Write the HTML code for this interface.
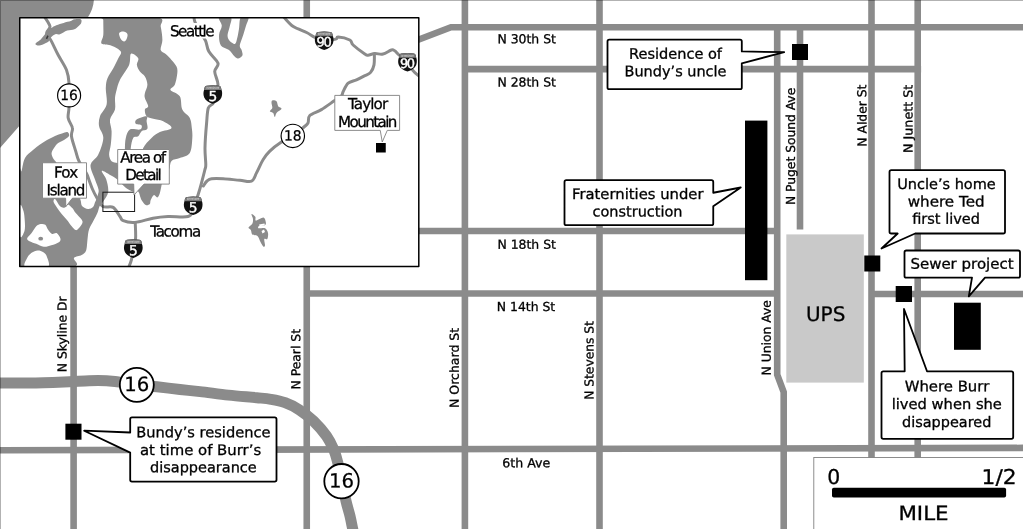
<!DOCTYPE html>
<html lang="en">
<head>
<meta charset="utf-8">
<title>Map of Tacoma area</title>
<style>
html,body{margin:0;padding:0;background:#fff;}
body{width:1023px;height:529px;overflow:hidden;position:relative;}
svg{display:block;position:absolute;left:0;top:0;filter:grayscale(1);}
text{font-family:"DejaVu Sans","Liberation Sans",sans-serif;fill:#000;text-rendering:geometricPrecision;stroke:#000;stroke-width:0.3;}
.c{font-family:"DejaVu Sans Condensed","DejaVu Sans","Liberation Sans",sans-serif;stroke:#000;stroke-width:0.3;}
.rd{stroke:#8b8b8b;stroke-width:6.6;fill:none;stroke-linecap:butt;stroke-linejoin:miter;}
.hw{stroke:#8b8b8b;stroke-width:11;fill:none;stroke-linejoin:round;}
.w{fill:#8b8b8b;stroke:none;}
.bx{fill:#fff;stroke:#000;stroke-width:1.8;stroke-linejoin:round;}
.ib{fill:#fff;stroke:#808080;stroke-width:0.9;}
.ir{stroke:#8b8b8b;stroke-width:3;fill:none;stroke-linejoin:round;stroke-linecap:round;}
.k{fill:#000;}
.t{stroke:#000;stroke-width:0.3;}
</style>
</head>
<body>
<svg width="1023" height="529" viewBox="0 0 1023 529" role="img" aria-label="Map of north Tacoma with inset of Puget Sound region">
<defs><clipPath id="ic"><rect x="19.6" y="17.5" width="399.4" height="249"/></clipPath></defs>
<rect x="0" y="0" width="1023" height="529" fill="#fff"/>
<path class="w" d="M-2,-2 L93.9,-2 L93.9,0 C93.5,6 91.5,12 87.8,17.5 L80,28 L19.7,125.5 L-2,150.3 Z"/>
<g id="roads">
<path class="rd" d="M73.6,260 V529"/>
<path class="rd" d="M306.75,0 V529"/>
<path class="rd" d="M464.9,0 V529"/>
<path class="rd" d="M599.5,0 V529"/>
<path class="rd" d="M777.2,27 V374.6 L783.7,392 V529"/>
<path class="rd" d="M800,27 V229.5"/>
<path class="rd" d="M871.5,0 V460"/>
<path class="rd" d="M917.7,0 V460"/>
<path class="rd" d="M415,41 L451,27.2 H1023"/>
<path class="rd" d="M464.9,69.1 H921.1"/>
<path class="rd" d="M415,231 H777.2"/>
<path class="rd" d="M306.75,293.5 H777.2"/>
<path class="rd" d="M871.5,294 H1023"/>
<path class="rd" d="M-5,450.2 L1028,447.9"/>
<path class="hw" d="M-5.0,383.0 C0.8,383.0 17.0,383.2 30.0,383.0 C43.0,382.8 61.7,382.0 73.0,381.6 C84.3,381.2 91.0,380.6 98.0,380.6 C105.0,380.6 108.5,380.8 115.0,381.5 C121.5,382.2 130.0,383.9 137.0,384.8 C144.0,385.7 149.8,386.0 157.0,386.8 C164.2,387.6 172.8,388.7 180.0,389.5 C187.2,390.3 191.9,390.7 200.0,391.6 C208.1,392.5 219.0,394.1 228.4,395.1 C237.8,396.1 249.6,397.0 256.7,397.7 C263.8,398.4 266.2,398.5 270.9,399.3 C275.6,400.1 280.4,400.9 285.1,402.7 C289.8,404.4 294.6,406.8 299.3,409.8 C304.0,412.9 309.0,416.6 313.5,421.0 C318.0,425.4 323.2,431.3 326.5,436.0 C329.8,440.7 331.6,444.7 333.5,449.0 C335.4,453.3 336.2,456.7 337.6,462.0 C339.0,467.3 340.6,474.3 342.0,480.8 C343.4,487.3 344.7,495.1 346.0,501.0 C347.3,506.9 348.9,511.3 350.0,516.0 C351.1,520.7 352.0,525.7 352.7,529.0 C353.4,532.3 353.8,534.8 354.0,536.0"/>
</g>
<rect x="786.3" y="234.4" width="77.5" height="148.2" fill="#c9c9c9"/>
<g class="k">
<rect x="745" y="120.6" width="22.4" height="159.6"/>
<rect x="792" y="44" width="16" height="16"/>
<rect x="864.3" y="255.5" width="16" height="16"/>
<rect x="895.7" y="286" width="16.3" height="16"/>
<rect x="954" y="302.7" width="26.8" height="47.1"/>
<rect x="65.4" y="423.7" width="16.1" height="16"/>
</g>
<g id="labels">
<text x="497.4" y="43.2" transform="rotate(0.03 497.4 43.2)" font-size="12.4" textLength="58.6" lengthAdjust="spacingAndGlyphs">N 30th St</text>
<text x="497.4" y="86.6" transform="rotate(0.03 497.4 86.6)" font-size="12.4" textLength="58.6" lengthAdjust="spacingAndGlyphs">N 28th St</text>
<text x="497.4" y="248.7" transform="rotate(0.03 497.4 248.7)" font-size="12.4" textLength="58.6" lengthAdjust="spacingAndGlyphs">N 18th St</text>
<text x="496.8" y="311.0" transform="rotate(0.03 496.8 311.0)" font-size="12.4" textLength="58.4" lengthAdjust="spacingAndGlyphs">N 14th St</text>
<text x="502.3" y="467.2" transform="rotate(0.03 502.3 467.2)" font-size="12.4" textLength="48.0" lengthAdjust="spacingAndGlyphs">6th Ave</text>
<text transform="translate(66.6,372.3) rotate(-90.03)" font-size="12.4" textLength="75.9" lengthAdjust="spacingAndGlyphs">N Skyline Dr</text>
<text transform="translate(300.3,389.5) rotate(-90.03)" font-size="12.4" textLength="60.5" lengthAdjust="spacingAndGlyphs">N Pearl St</text>
<text transform="translate(458.8,408.0) rotate(-90.03)" font-size="12.4" textLength="80.2" lengthAdjust="spacingAndGlyphs">N Orchard St</text>
<text transform="translate(593.5,399.8) rotate(-90.03)" font-size="12.4" textLength="78.6" lengthAdjust="spacingAndGlyphs">N Stevens St</text>
<text transform="translate(770.7,375.4) rotate(-90.03)" font-size="12.4" textLength="75.3" lengthAdjust="spacingAndGlyphs">N Union Ave</text>
<text transform="translate(795.1,205.0) rotate(-90.03)" font-size="12.4" textLength="117.2" lengthAdjust="spacingAndGlyphs">N Puget Sound Ave</text>
<text transform="translate(866.4,146.7) rotate(-90.03)" font-size="12.4" textLength="62.1" lengthAdjust="spacingAndGlyphs">N Alder St</text>
<text transform="translate(912.6,153.0) rotate(-90.03)" font-size="12.4" textLength="68.3" lengthAdjust="spacingAndGlyphs">N Junett St</text>
<text x="806.0" y="320.9" transform="rotate(0.03 806.0 320.9)" font-size="20" textLength="39.3" lengthAdjust="spacingAndGlyphs">UPS</text>
</g>
<g id="inset">
<rect x="19.6" y="17.5" width="399.4" height="249" fill="#fff"/>
<g clip-path="url(#ic)">
<path class="w" d="M104.1,17.5 C113.1,17.1 148.0,16.0 157.4,17.5 C166.8,19.0 159.9,22.9 160.7,26.6 C161.5,30.4 162.4,36.1 162.4,40.0 C162.4,43.9 160.1,47.7 160.7,50.0 C161.2,52.3 163.9,52.4 165.7,54.0 C167.5,55.6 169.7,57.8 171.5,59.9 C173.3,62.0 175.5,64.3 176.5,66.5 C177.5,68.7 177.6,70.2 177.3,73.2 C177.0,76.2 175.9,82.0 174.8,84.8 C173.7,87.6 169.7,88.1 170.5,90.0 C171.3,91.9 177.8,93.0 179.8,96.3 C181.8,99.6 180.6,106.0 182.3,109.6 C184.0,113.2 188.2,114.9 189.8,118.0 C191.4,121.1 191.4,124.7 191.8,128.0 C192.2,131.3 192.6,133.8 192.3,138.0 C192.0,142.2 191.9,149.7 189.8,153.0 C187.7,156.3 182.9,156.7 179.8,158.0 C176.8,159.3 173.3,159.0 171.5,161.0 C169.7,163.0 170.4,166.8 169.0,170.0 C167.6,173.2 164.5,176.1 163.0,180.0 C161.5,183.9 160.8,190.3 159.8,193.2 C158.9,196.1 158.3,197.1 157.3,197.4 C156.3,197.7 155.1,194.6 154.0,195.0 C152.9,195.4 151.4,198.5 150.7,200.0 C150.0,201.5 150.6,203.2 149.8,204.0 C149.0,204.8 147.1,205.7 145.7,205.0 C144.3,204.3 142.8,202.2 141.5,200.0 C140.2,197.8 139.6,193.0 138.2,191.6 C136.8,190.2 135.0,192.2 133.0,191.6 C131.0,191.0 128.7,190.1 126.0,188.0 C123.3,185.9 119.8,181.6 117.0,179.3 C114.2,177.0 111.7,175.8 109.2,174.4 C106.7,173.0 102.3,170.2 101.8,171.0 C101.3,171.8 105.1,175.8 106.2,179.3 C107.3,182.8 108.7,188.4 108.2,192.0 C107.8,195.6 104.9,198.7 103.5,201.0 C102.1,203.3 100.7,204.1 99.7,206.0 C98.7,207.9 98.5,210.3 97.5,212.7 C96.5,215.1 95.1,217.5 93.7,220.3 C92.3,223.1 90.1,226.3 89.1,229.3 C88.1,232.3 88.1,234.9 87.6,238.4 C87.1,241.9 87.1,247.7 86.1,250.5 C85.1,253.3 83.6,253.8 81.6,255.0 C79.6,256.2 75.4,256.1 74.0,258.0 C72.6,259.9 82.2,265.1 73.2,266.5 C64.2,267.9 28.9,281.6 20.0,266.5 C11.1,251.4 19.7,191.9 20.0,176.0 C20.3,160.1 20.8,174.0 21.6,171.0 C22.4,168.0 23.1,161.5 25.0,158.0 C26.9,154.5 30.5,152.2 33.0,150.0 C35.5,147.8 37.7,146.2 40.0,144.5 C42.3,142.8 44.5,141.4 47.0,140.0 C49.5,138.6 52.5,137.1 55.0,136.0 C57.5,134.9 59.9,134.2 62.0,133.5 C64.1,132.8 66.2,131.6 67.4,132.0 C68.6,132.4 69.6,134.7 69.0,136.0 C68.4,137.3 65.8,138.8 64.0,140.0 C62.2,141.2 59.9,141.7 58.2,143.0 C56.5,144.3 55.1,146.3 54.0,148.0 C52.9,149.7 51.8,151.3 51.6,153.0 C51.4,154.7 52.3,156.5 53.0,158.0 C53.7,159.5 54.0,159.2 56.0,162.0 C58.0,164.8 61.8,170.3 65.0,175.0 C68.2,179.7 72.5,185.9 75.0,190.0 C77.5,194.1 79.1,196.6 80.3,199.3 C81.5,202.0 80.7,204.4 82.0,206.0 C83.3,207.6 86.2,208.8 88.0,209.0 C89.8,209.2 91.8,208.1 93.0,207.0 C94.2,205.9 94.4,203.6 95.0,202.3 C95.6,201.0 96.0,200.3 96.5,199.0 C97.0,197.7 97.7,196.0 98.0,194.4 C98.3,192.8 99.0,192.0 98.5,189.5 C98.0,187.0 96.2,182.9 95.0,179.5 C93.8,176.1 91.6,171.8 91.0,169.0 C90.4,166.2 90.1,165.3 91.3,162.9 C92.5,160.5 96.3,158.7 98.3,154.5 C100.3,150.3 103.2,142.6 103.3,137.9 C103.4,133.2 99.6,129.9 99.1,126.3 C98.5,122.7 98.8,119.9 100.0,116.3 C101.2,112.7 105.6,109.3 106.6,104.6 C107.6,99.9 105.6,92.6 105.8,88.2 C106.0,83.8 106.2,81.5 107.5,78.2 C108.8,74.9 111.5,71.5 113.3,68.2 C115.1,64.9 117.0,61.0 118.3,58.2 C119.5,55.4 121.9,53.7 120.8,51.6 C119.7,49.5 114.6,47.0 111.6,45.8 C108.5,44.5 104.2,44.8 102.5,44.1 C100.8,43.4 101.2,43.1 101.3,41.6 C101.4,40.1 103.0,38.6 103.3,35.0 C103.6,31.4 103.2,22.9 103.3,20.0 C103.4,17.1 95.1,17.9 104.1,17.5Z"/>
<path fill="#fff" d="M119.1,33.3 C119.5,32.0 121.9,31.5 123.3,31.6 C124.7,31.7 126.9,32.9 127.4,34.1 C128.0,35.4 127.1,37.9 126.6,39.1 C126.0,40.4 125.1,41.6 124.1,41.6 C123.1,41.6 121.6,40.5 120.8,39.1 C120.0,37.7 118.7,34.5 119.1,33.3Z"/>
<path fill="#fff" d="M131.0,53.8 C132.5,52.7 137.2,56.4 138.2,58.2 C139.2,60.1 136.6,62.7 136.9,64.9 C137.2,67.1 138.6,69.6 139.9,71.5 C141.2,73.4 143.7,74.3 144.9,76.5 C146.2,78.7 147.4,82.0 147.4,84.8 C147.4,87.6 145.3,91.0 144.9,93.2 C144.5,95.4 144.4,95.8 144.9,98.0 C145.4,100.2 148.2,104.4 148.2,106.3 C148.2,108.2 145.2,107.9 144.9,109.6 C144.6,111.3 145.2,114.8 146.6,116.3 C148.0,117.8 150.4,118.0 153.2,118.8 C156.0,119.6 160.1,119.8 163.2,121.3 C166.2,122.8 172.1,126.1 171.5,127.9 C170.9,129.7 163.2,130.4 159.9,132.1 C156.6,133.8 154.3,135.3 151.5,137.9 C148.7,140.5 145.1,144.2 143.2,147.9 C141.3,151.6 143.9,157.2 140.0,160.0 C136.1,162.8 123.8,164.5 120.0,165.0 C116.2,165.5 118.8,163.5 117.4,162.9 C116.0,162.3 113.0,162.6 111.6,161.2 C110.2,159.8 109.2,157.3 109.1,154.5 C109.0,151.7 110.4,148.4 110.8,144.5 C111.2,140.6 111.7,135.3 111.6,131.2 C111.5,127.0 109.4,123.2 110.0,119.6 C110.6,116.0 114.2,113.2 115.0,109.6 C115.8,106.0 114.7,101.3 115.0,98.0 C115.3,94.7 115.8,93.0 116.6,90.0 C117.4,87.0 117.8,84.1 119.9,79.9 C122.0,75.7 127.2,69.2 129.1,64.9 C130.9,60.6 129.5,54.9 131.0,53.8Z"/>
<path fill="#fff" d="M55.1,199.1 C56.2,199.8 58.7,205.3 60.4,206.6 C62.0,208.0 63.7,207.8 64.9,207.4 C66.2,207.0 66.7,204.2 68.0,204.4 C69.2,204.5 71.2,206.8 72.5,208.2 C73.7,209.5 74.0,210.8 75.5,212.7 C77.0,214.6 80.4,217.7 81.6,219.5 C82.7,221.3 82.8,221.8 82.3,223.3 C81.8,224.8 79.7,227.4 78.5,228.6 C77.4,229.7 76.6,230.5 75.5,230.1 C74.4,229.7 73.1,227.9 71.7,226.3 C70.3,224.7 68.8,222.3 67.2,220.3 C65.6,218.2 63.5,216.2 61.9,214.2 C60.3,212.2 58.7,210.2 57.4,208.2 C56.0,206.1 54.0,203.6 53.6,202.1 C53.2,200.6 54.0,198.3 55.1,199.1Z"/>
<path fill="#fff" d="M27.1,238.4 C27.4,237.0 30.1,235.1 31.6,233.1 C33.2,231.1 34.7,227.8 36.2,226.3 C37.7,224.8 39.2,224.3 40.7,224.0 C42.2,223.8 44.0,223.8 45.3,224.8 C46.5,225.8 47.1,228.6 48.3,230.1 C49.4,231.6 50.7,233.4 52.1,233.9 C53.5,234.4 55.2,232.4 56.6,233.1 C58.0,233.9 60.0,236.9 60.4,238.4 C60.8,239.9 60.4,241.1 58.9,242.2 C57.4,243.3 53.8,244.5 51.3,245.2 C48.8,246.0 46.3,247.0 43.7,246.7 C41.2,246.5 38.4,244.6 36.2,243.7 C33.9,242.8 31.6,242.3 30.1,241.4 C28.6,240.6 26.9,239.8 27.1,238.4Z"/>
<path fill="#fff" d="M25.6,267.2 C22.2,265.6 26.1,260.5 27.1,258.1 C28.1,255.7 29.9,254.0 31.6,252.8 C33.4,251.5 35.8,250.6 37.7,250.5 C39.6,250.4 41.5,251.0 43.0,252.0 C44.5,253.0 46.0,254.0 46.8,256.6 C47.5,259.1 51.1,265.4 47.5,267.2 C44.0,268.9 29.0,268.7 25.6,267.2Z"/>
<path fill="#fff" d="M20.0,206.0 C20.6,201.8 22.7,208.5 23.5,211.0 C24.3,213.5 24.6,217.7 24.8,221.0 C25.0,224.3 25.3,228.5 24.5,231.0 C23.7,233.5 20.8,240.2 20.0,236.0 C19.2,231.8 19.4,210.2 20.0,206.0Z"/>
<path class="w" d="M146.6,116.3 C144.9,116.0 138.4,118.3 136.6,119.6 C134.8,120.8 134.9,122.8 135.7,123.8 C136.5,124.8 140.9,124.4 141.6,125.4 C142.3,126.4 141.8,128.9 139.9,129.6 C138.0,130.3 132.2,128.2 129.9,129.6 C127.6,131.0 126.6,134.7 125.8,137.9 C125.0,141.1 125.0,145.0 124.9,148.7 C124.8,152.4 124.0,158.1 125.0,160.0 C126.0,161.9 130.1,161.9 131.0,160.0 C131.9,158.1 130.3,152.4 130.7,148.7 C131.1,145.0 131.9,140.0 133.2,137.9 C134.4,135.8 136.8,137.3 138.2,136.2 C139.6,135.1 140.1,132.4 141.6,131.2 C143.1,130.0 146.6,130.5 147.4,128.8 C148.2,127.2 146.7,123.4 146.6,121.3 C146.5,119.2 148.3,116.6 146.6,116.3Z"/>
<path class="w" d="M35.4,43.8 C35.7,42.7 39.2,40.9 40.9,39.2 C42.6,37.5 43.7,35.6 45.4,33.8 C47.1,32.0 49.1,29.7 50.9,28.3 C52.7,26.9 54.2,26.1 56.3,25.2 C58.4,24.3 61.2,23.6 63.6,22.9 C66.0,22.2 69.0,21.7 70.8,21.1 C72.6,20.5 72.7,19.6 74.4,19.3 C76.1,19.0 79.7,18.7 80.8,19.3 C81.9,19.9 81.7,21.7 81.2,22.9 C80.8,24.1 79.2,25.4 78.1,26.5 C77.0,27.6 76.2,28.5 74.4,29.2 C72.6,29.9 69.6,29.8 67.2,30.6 C64.8,31.4 61.9,33.6 59.9,34.2 C57.9,34.8 56.9,33.7 55.4,34.2 C53.9,34.7 52.0,36.3 50.9,37.4 C49.8,38.5 49.9,40.0 49.0,41.0 C48.1,42.0 47.0,42.5 45.4,43.3 C43.8,44.1 40.8,45.5 39.1,45.6 C37.4,45.7 35.1,44.9 35.4,43.8Z"/>
<path class="w" d="M219.1,17.5 C217.6,18.9 221.8,22.9 221.8,25.8 C221.8,28.7 219.2,31.4 219.1,34.7 C218.9,38.0 219.2,43.0 220.9,45.5 C222.6,48.0 226.8,48.2 229.0,50.0 C231.2,51.8 232.9,54.9 234.4,56.3 C235.9,57.7 236.7,58.5 238.0,58.4 C239.3,58.2 241.8,56.8 242.4,55.4 C243.0,54.0 242.0,51.6 241.6,50.0 C241.2,48.4 239.5,48.0 239.8,45.5 C240.1,43.0 242.3,38.0 243.3,34.7 C244.3,31.4 245.2,28.7 246.0,25.8 C246.8,22.9 249.3,18.9 248.4,17.5 C247.5,16.1 242.3,15.5 240.7,17.5 C239.1,19.5 239.7,25.3 238.9,29.4 C238.2,33.5 237.1,39.5 236.2,41.9 C235.3,44.3 234.7,44.0 233.5,43.7 C232.3,43.4 230.0,41.6 229.0,40.1 C228.0,38.6 227.4,37.1 227.6,34.7 C227.8,32.3 229.4,28.7 229.9,25.8 C230.4,22.9 232.6,18.9 230.8,17.5 C229.0,16.1 220.6,16.1 219.1,17.5Z"/>
<path class="w" d="M272.3,100.5 C273.1,100.2 275.5,100.3 276.5,101.3 C277.5,102.3 277.4,105.0 278.2,106.3 C279.0,107.5 281.8,107.7 281.5,108.8 C281.2,109.9 277.6,111.6 276.5,113.0 C275.4,114.4 275.4,117.1 274.8,117.1 C274.2,117.1 274.0,114.0 273.2,113.0 C272.4,112.0 269.9,112.1 269.8,111.3 C269.7,110.5 272.0,109.4 272.3,108.0 C272.6,106.6 271.5,104.2 271.5,103.0 C271.5,101.8 271.5,100.8 272.3,100.5Z"/>
<path class="w" d="M251.5,214.1 C251.9,213.7 254.6,215.7 255.3,216.8 C256.1,217.8 254.6,220.4 256.0,220.6 C257.4,220.7 261.8,217.3 263.5,217.6 C265.1,217.9 265.6,221.0 265.8,222.2 C266.1,223.5 266.0,224.7 265.0,225.2 C264.0,225.7 260.9,224.7 259.8,225.2 C258.7,225.7 257.5,227.7 258.3,228.2 C259.2,228.7 263.4,227.5 265.0,228.2 C266.6,229.0 267.6,231.1 268.0,232.9 C268.4,234.7 267.9,238.0 267.3,239.0 C266.7,240.1 264.7,238.0 264.3,239.0 C263.9,240.1 265.1,243.9 265.0,245.2 C264.8,246.5 264.2,247.2 263.5,246.7 C262.7,246.2 261.5,243.8 260.5,242.0 C259.5,240.2 258.9,237.2 257.5,235.9 C256.1,234.6 253.4,235.4 252.3,234.4 C251.2,233.4 251.5,231.0 250.8,229.9 C250.2,228.8 248.3,228.6 248.5,227.6 C248.8,226.5 251.6,225.2 252.3,223.7 C253.1,222.3 253.1,220.7 253.0,219.1 C252.9,217.5 251.1,214.5 251.5,214.1Z"/>
<ellipse cx="40.7" cy="238.7" rx="2.4" ry="1.9" fill="#8b8b8b"/><circle cx="52" cy="231.8" r="1.4" fill="#8b8b8b"/>
<path class="ir" d="M45.0,17.5 C45.8,19.0 49.7,24.0 50.0,26.6 C50.3,29.2 46.3,30.8 46.6,33.3 C46.9,35.8 49.7,38.0 51.6,41.6 C53.5,45.2 55.7,50.3 58.2,55.0 C60.7,59.7 64.7,65.3 66.5,70.0 C68.3,74.7 68.6,76.8 69.0,83.0 C69.4,89.2 69.1,101.2 69.0,107.0 C68.9,112.8 67.6,114.5 68.2,118.0 C68.8,121.5 71.9,125.0 72.4,128.0 C73.0,131.0 71.0,132.3 71.5,136.2 C72.0,140.1 74.5,147.0 75.7,151.2 C77.0,155.4 77.2,157.5 79.0,161.2 C80.8,164.9 84.8,170.3 86.5,173.4 C88.2,176.5 88.0,177.4 89.0,180.0 C90.0,182.6 91.1,186.0 92.4,189.0 C93.7,192.0 95.2,195.1 97.0,198.0 C98.8,200.9 100.2,204.9 102.9,206.5 C105.6,208.1 110.4,205.7 113.2,207.4 C116.0,209.1 118.3,214.3 120.0,216.5 C121.7,218.7 120.7,219.7 123.2,220.7 C125.7,221.7 129.8,222.8 134.8,222.4 C139.8,222.0 147.5,219.2 153.0,218.2 C158.5,217.2 162.2,216.8 168.0,216.5 C173.8,216.2 183.8,217.6 188.0,216.5 C192.2,215.4 191.3,213.6 193.0,210.0 C194.7,206.4 196.6,199.4 198.0,195.0 C199.4,190.6 200.3,187.5 201.4,183.3 C202.5,179.1 204.1,173.1 204.8,170.0 C205.5,166.9 205.8,168.2 205.8,164.5 C205.8,160.8 204.9,154.9 205.0,148.0 C205.1,141.1 206.0,129.7 206.6,123.0 C207.2,116.3 207.2,111.3 208.3,108.0 C209.4,104.7 212.5,105.3 213.3,103.0 C214.1,100.7 212.2,97.0 213.0,94.0 C213.8,91.0 217.7,88.5 218.0,84.8 C218.3,81.0 214.7,75.1 214.7,71.5 C214.7,67.9 219.0,66.5 218.0,63.2 C217.0,59.9 211.0,55.3 208.9,51.6 C206.8,47.9 207.1,44.1 205.6,40.8 C204.1,37.5 201.8,35.1 200.0,32.0 C198.2,28.9 196.0,24.4 195.0,22.0 C194.0,19.6 194.2,18.2 194.0,17.5"/>
<path class="ir" d="M135.2,222.4 C135.3,225.0 135.9,233.8 135.6,238.2 C135.3,242.6 134.1,245.4 133.4,249.0 C132.7,252.6 132.1,257.0 131.4,259.9 C130.7,262.8 129.4,265.4 129.0,266.5"/>
<path class="ir" d="M203.3,186.0 C203.9,185.2 205.6,182.2 207.0,181.0 C208.4,179.8 208.9,179.1 211.6,178.7 C214.3,178.3 218.6,178.4 223.3,178.7 C228.0,179.0 235.2,179.9 239.9,180.3 C244.6,180.7 248.7,182.4 251.5,181.2 C254.3,180.0 254.6,176.5 256.5,172.9 C258.4,169.3 261.0,163.1 263.2,159.5 C265.4,155.9 266.9,154.0 269.8,151.2 C272.7,148.4 276.9,145.1 280.7,142.6 C284.5,140.1 288.9,138.5 292.8,135.9 C296.7,133.3 301.5,129.2 304.0,127.0 C306.5,124.8 307.0,124.9 308.0,123.0 C309.0,121.1 307.6,117.7 309.8,115.5 C312.0,113.3 317.2,112.1 321.4,109.6 C325.5,107.1 331.3,102.8 334.7,100.5 C338.1,98.2 340.1,97.2 341.5,95.7 C342.9,94.2 342.1,93.6 343.2,91.5 C344.3,89.4 346.0,85.1 348.2,83.2 C350.4,81.3 353.7,81.2 356.5,79.9 C359.3,78.7 362.4,77.0 364.8,75.7 C367.2,74.5 369.1,74.2 370.6,72.4 C372.1,70.6 373.4,68.0 374.0,64.9 C374.6,61.8 374.3,55.8 374.4,54.0"/>
<path class="ir" d="M284.1,17.5 C285.6,19.0 289.6,24.1 293.3,26.6 C297.1,29.1 303.0,30.7 306.6,32.5 C310.2,34.3 312.1,36.0 315.0,37.4 C317.9,38.8 320.8,40.3 324.2,40.6 C327.6,40.9 333.4,39.7 335.7,39.1 C338.0,38.5 335.8,36.9 338.2,37.0 C340.6,37.1 347.3,38.7 349.8,40.0 C352.3,41.3 350.6,42.7 353.1,45.0 C355.6,47.3 362.3,52.3 364.8,54.0 C367.3,55.7 366.3,55.3 368.0,55.2 C369.7,55.1 372.3,53.8 374.8,53.6 C377.3,53.4 380.2,54.6 383.0,54.0 C385.8,53.4 389.4,50.5 391.4,50.0 C393.3,49.5 393.4,50.0 394.7,50.8 C396.0,51.6 396.9,53.1 399.0,55.0 C401.1,56.9 405.2,59.4 407.5,62.0 C409.8,64.6 411.2,68.4 413.0,70.7 C414.8,73.0 417.6,74.9 418.5,75.7"/>
<path d="M45.8,38.5 L47.3,35.3 L48.6,36 L47.2,39.2Z" fill="#3a3a3a"/>
<path d="M259,224.5 L264.5,223.6 L264.8,225 L260,226Z M261.5,231 L264,229.5 L265,232 L262.5,233.5Z" fill="#fff"/>
</g>
<rect x="102.9" y="192.2" width="31.7" height="19.3" fill="none" stroke="#1a1a1a" stroke-width="1"/>
<path d="M204.30,89.30 C204.40,87.10 205.10,85.90 206.90,85.70 Q212.80,84.80 218.70,85.70 C220.50,85.90 221.20,87.10 221.30,89.30 C222.30,91.70 222.50,94.50 221.50,97.20 C220.20,100.40 216.90,102.60 212.80,103.80 C208.70,102.60 205.40,100.40 204.10,97.20 C203.10,94.50 203.30,91.70 204.40,89.10Z" fill="#111"/><path d="M204.30,89.30 C204.40,87.10 205.10,85.90 206.90,85.70 Q212.80,84.80 218.70,85.70 C220.50,85.90 221.20,87.10 221.30,89.30 L221.60,90.00 L204.00,90.00Z" fill="#7a7a7a"/><text x="212.8" y="89.2" font-size="2.9" text-anchor="middle" textLength="12.5" lengthAdjust="spacingAndGlyphs" style="fill:#e0e0e0;stroke:none">INTERSTATE</text><text x="212.8" y="101.1" transform="rotate(0.03 212.8 94.2)" font-size="13.8" text-anchor="middle" style="fill:#fff;stroke:#fff;stroke-width:0.4">5</text>
<path d="M184.70,200.50 C184.80,198.30 185.50,197.10 187.30,196.90 Q193.20,196.00 199.10,196.90 C200.90,197.10 201.60,198.30 201.70,200.50 C202.70,202.90 202.90,205.70 201.90,208.40 C200.60,211.60 197.30,213.80 193.20,215.00 C189.10,213.80 185.80,211.60 184.50,208.40 C183.50,205.70 183.70,202.90 184.80,200.30Z" fill="#111"/><path d="M184.70,200.50 C184.80,198.30 185.50,197.10 187.30,196.90 Q193.20,196.00 199.10,196.90 C200.90,197.10 201.60,198.30 201.70,200.50 L202.00,201.20 L184.40,201.20Z" fill="#7a7a7a"/><text x="193.2" y="200.4" font-size="2.9" text-anchor="middle" textLength="12.5" lengthAdjust="spacingAndGlyphs" style="fill:#e0e0e0;stroke:none">INTERSTATE</text><text x="193.2" y="212.3" transform="rotate(0.03 193.2 205.4)" font-size="13.8" text-anchor="middle" style="fill:#fff;stroke:#fff;stroke-width:0.4">5</text>
<path d="M124.80,243.40 C124.90,241.20 125.60,240.00 127.40,239.80 Q133.30,238.90 139.20,239.80 C141.00,240.00 141.70,241.20 141.80,243.40 C142.80,245.80 143.00,248.60 142.00,251.30 C140.70,254.50 137.40,256.70 133.30,257.90 C129.20,256.70 125.90,254.50 124.60,251.30 C123.60,248.60 123.80,245.80 124.90,243.20Z" fill="#111"/><path d="M124.80,243.40 C124.90,241.20 125.60,240.00 127.40,239.80 Q133.30,238.90 139.20,239.80 C141.00,240.00 141.70,241.20 141.80,243.40 L142.10,244.10 L124.50,244.10Z" fill="#7a7a7a"/><text x="133.3" y="243.3" font-size="2.9" text-anchor="middle" textLength="12.5" lengthAdjust="spacingAndGlyphs" style="fill:#e0e0e0;stroke:none">INTERSTATE</text><text x="133.3" y="255.2" transform="rotate(0.03 133.3 248.3)" font-size="13.8" text-anchor="middle" style="fill:#fff;stroke:#fff;stroke-width:0.4">5</text>
<path d="M315.70,35.50 C315.80,33.30 316.50,32.10 318.30,31.90 Q324.20,31.00 330.10,31.90 C331.90,32.10 332.60,33.30 332.70,35.50 C333.70,37.90 333.90,40.70 332.90,43.40 C331.60,46.60 328.30,48.80 324.20,50.00 C320.10,48.80 316.80,46.60 315.50,43.40 C314.50,40.70 314.70,37.90 315.80,35.30Z" fill="#111"/><path d="M315.70,35.50 C315.80,33.30 316.50,32.10 318.30,31.90 Q324.20,31.00 330.10,31.90 C331.90,32.10 332.60,33.30 332.70,35.50 L333.00,36.20 L315.40,36.20Z" fill="#7a7a7a"/><text x="324.2" y="35.4" font-size="2.9" text-anchor="middle" textLength="12.5" lengthAdjust="spacingAndGlyphs" style="fill:#e0e0e0;stroke:none">INTERSTATE</text><text x="324.2" y="46.4" transform="rotate(0.03 324.2 40.4)" font-size="13.0" text-anchor="middle" style="fill:#fff;stroke:#fff;stroke-width:0.4" textLength="15.2" lengthAdjust="spacing">90</text>
<path d="M399.00,57.10 C399.10,54.90 399.80,53.70 401.60,53.50 Q407.50,52.60 413.40,53.50 C415.20,53.70 415.90,54.90 416.00,57.10 C417.00,59.50 417.20,62.30 416.20,65.00 C414.90,68.20 411.60,70.40 407.50,71.60 C403.40,70.40 400.10,68.20 398.80,65.00 C397.80,62.30 398.00,59.50 399.10,56.90Z" fill="#111"/><path d="M399.00,57.10 C399.10,54.90 399.80,53.70 401.60,53.50 Q407.50,52.60 413.40,53.50 C415.20,53.70 415.90,54.90 416.00,57.10 L416.30,57.80 L398.70,57.80Z" fill="#7a7a7a"/><text x="407.5" y="57.0" font-size="2.9" text-anchor="middle" textLength="12.5" lengthAdjust="spacingAndGlyphs" style="fill:#e0e0e0;stroke:none">INTERSTATE</text><text x="407.5" y="68.0" transform="rotate(0.03 407.5 62.0)" font-size="13.0" text-anchor="middle" style="fill:#fff;stroke:#fff;stroke-width:0.4" textLength="15.2" lengthAdjust="spacing">90</text>
<circle cx="69.1" cy="95.4" r="11.5" fill="#fff" stroke="#000" stroke-width="1.15"/><text x="69.1" y="99.9" transform="rotate(0.03 69.1 95.4)" font-size="14" text-anchor="middle" textLength="17.6" lengthAdjust="spacingAndGlyphs" style="stroke:#000;stroke-width:0.25">16</text>
<circle cx="292.8" cy="135.9" r="11.7" fill="#fff" stroke="#000" stroke-width="1.15"/><text x="292.8" y="140.4" transform="rotate(0.03 292.8 135.9)" font-size="14" text-anchor="middle" textLength="17.6" lengthAdjust="spacingAndGlyphs" style="stroke:#000;stroke-width:0.25">18</text>
<path class="ib" d="M42.5,162.75 L86.5,162.75 Q86.5,162.75 86.5,162.75 L86.5,198.2 Q86.5,198.2 86.5,198.2 L72.4,198.2 L65.8,206.7 L65.6,198.2 L42.5,198.2 Q42.5,198.2 42.5,198.2 L42.5,162.75 Q42.5,162.75 42.5,162.75Z"/>
<text class="t" x="53.9" y="177.4" transform="rotate(0.03 53.9 177.4)" font-size="15.1" textLength="24.3" lengthAdjust="spacing">Fox</text>
<text class="t" x="46.6" y="195.2" transform="rotate(0.03 46.6 195.2)" font-size="15.1" textLength="38.8" lengthAdjust="spacing">Island</text>
<path class="ib" d="M117.7,149.5 L169.3,149.5 Q169.3,149.5 169.3,149.5 L169.3,184.1 Q169.3,184.1 169.3,184.1 L144,184.1 L134,195 L133.7,184.1 L117.7,184.1 Q117.7,184.1 117.7,184.1 L117.7,149.5 Q117.7,149.5 117.7,149.5Z"/>
<text class="t" x="120.2" y="162.4" transform="rotate(0.03 120.2 162.4)" font-size="15.1" textLength="46.0" lengthAdjust="spacing">Area of</text>
<text class="t" x="125.3" y="180.0" transform="rotate(0.03 125.3 180.0)" font-size="15.1" textLength="36.5" lengthAdjust="spacing">Detail</text>
<path class="ib" d="M334.8,95.4 L399.6,95.4 Q399.6,95.4 399.6,95.4 L399.6,130.4 Q399.6,130.4 399.6,130.4 L387.25,130.4 L382.25,142 L380.25,130.4 L334.8,130.4 Q334.8,130.4 334.8,130.4 L334.8,95.4 Q334.8,95.4 334.8,95.4Z"/>
<text class="t" x="348.0" y="109.0" transform="rotate(0.03 348.0 109.0)" font-size="15.1" textLength="40.2" lengthAdjust="spacing">Taylor</text>
<text class="t" x="338.0" y="127.1" transform="rotate(0.03 338.0 127.1)" font-size="15.1" textLength="59.4" lengthAdjust="spacing">Mountain</text>
<rect class="k" x="376" y="143" width="9.75" height="9.5"/>
<rect x="168.5" y="23" width="47" height="15.5" fill="#fff"/>
<text class="t" x="170.0" y="36.2" transform="rotate(0.03 170.0 36.2)" font-size="15.1" textLength="44.6" lengthAdjust="spacing">Seattle</text>
<text class="t" x="150.2" y="236.6" transform="rotate(0.03 150.2 236.6)" font-size="15.1" textLength="51.0" lengthAdjust="spacing">Tacoma</text>
<rect x="19.75" y="17.75" width="399.05" height="248.65" fill="none" stroke="#000" stroke-width="1.5" stroke-linejoin="round"/>
</g>
<g id="callouts">
<path class="bx" d="M609.3,39.6 L740.0,39.6 Q741.8,39.6 741.8,41.4 L741.8,51.4 L784.2,52.2 L741.8,63.3 L741.8,87.4 Q741.8,89.2 740.0,89.2 L609.3,89.2 Q607.5,89.2 607.5,87.4 L607.5,41.4 Q607.5,39.6 609.3,39.6Z"/>
<text x="629.0" y="58.8" transform="rotate(0.03 629.0 58.8)" font-size="14.5" textLength="93.0" lengthAdjust="spacingAndGlyphs">Residence of</text>
<text x="624.5" y="76.2" transform="rotate(0.03 624.5 76.2)" font-size="14.5" textLength="102.0" lengthAdjust="spacingAndGlyphs">Bundy’s uncle</text>
<path class="bx" d="M566.3,180.1 L711.45,180.1 Q713.25,180.1 713.25,181.9 L713.25,192.75 L740.75,187.5 L713.25,206.25 L713.25,223.39999999999998 Q713.25,225.2 711.45,225.2 L566.3,225.2 Q564.5,225.2 564.5,223.39999999999998 L564.5,181.9 Q564.5,180.1 566.3,180.1Z"/>
<text x="572.0" y="199.0" transform="rotate(0.03 572.0 199.0)" font-size="14.5" textLength="131.5" lengthAdjust="spacingAndGlyphs">Fraternities under</text>
<text x="592.5" y="216.5" transform="rotate(0.03 592.5 216.5)" font-size="14.5" textLength="90.0" lengthAdjust="spacingAndGlyphs">construction</text>
<path class="bx" d="M891.3,170.2 L1003.2,170.2 Q1005,170.2 1005,172.0 L1005,231.7 Q1005,233.5 1003.2,233.5 L915.2,233.5 L881.5,248.5 L897.7,233.5 L891.3,233.5 Q889.5,233.5 889.5,231.7 L889.5,172.0 Q889.5,170.2 891.3,170.2Z"/>
<text x="897.2" y="188.9" transform="rotate(0.03 897.2 188.9)" font-size="14.5" textLength="98.6" lengthAdjust="spacingAndGlyphs">Uncle’s home</text>
<text x="907.7" y="206.4" transform="rotate(0.03 907.7 206.4)" font-size="14.5" textLength="76.9" lengthAdjust="spacingAndGlyphs">where Ted</text>
<text x="912.2" y="223.8" transform="rotate(0.03 912.2 223.8)" font-size="14.5" textLength="67.8" lengthAdjust="spacingAndGlyphs">first lived</text>
<path class="bx" d="M906.3,250.5 L1018.2,250.5 Q1020,250.5 1020,252.3 L1020,275.9 Q1020,277.7 1018.2,277.7 L985,277.7 L968.8,296.4 L972,277.7 L906.3,277.7 Q904.5,277.7 904.5,275.9 L904.5,252.3 Q904.5,250.5 906.3,250.5Z"/>
<text x="910.4" y="268.8" transform="rotate(0.03 910.4 268.8)" font-size="14.5" textLength="103.2" lengthAdjust="spacingAndGlyphs">Sewer project</text>
<path class="bx" d="M883.3,371.3 L904.7,371.3 L904,309 L927,371.3 L1011.4000000000001,371.3 Q1013.2,371.3 1013.2,373.1 L1013.2,437.0 Q1013.2,438.8 1011.4000000000001,438.8 L883.3,438.8 Q881.5,438.8 881.5,437.0 L881.5,373.1 Q881.5,371.3 883.3,371.3Z"/>
<text x="904.7" y="391.2" transform="rotate(0.03 904.7 391.2)" font-size="14.5" textLength="84.6" lengthAdjust="spacingAndGlyphs">Where Burr</text>
<text x="891.7" y="409.0" transform="rotate(0.03 891.7 409.0)" font-size="14.5" textLength="110.2" lengthAdjust="spacingAndGlyphs">lived when she</text>
<text x="902.0" y="427.0" transform="rotate(0.03 902.0 427.0)" font-size="14.5" textLength="89.3" lengthAdjust="spacingAndGlyphs">disappeared</text>
<path class="bx" d="M132.0,417.4 L274.7,417.4 Q276.5,417.4 276.5,419.2 L276.5,479.8 Q276.5,481.6 274.7,481.6 L132.0,481.6 Q130.2,481.6 130.2,479.8 L130.2,452.6 L84.2,430.7 L130.2,432.5 L130.2,419.2 Q130.2,417.4 132.0,417.4Z"/>
<text x="136.2" y="437.2" transform="rotate(0.03 136.2 437.2)" font-size="14.5" textLength="134.3" lengthAdjust="spacingAndGlyphs">Bundy’s residence</text>
<text x="140.0" y="454.9" transform="rotate(0.03 140.0 454.9)" font-size="14.5" textLength="121.2" lengthAdjust="spacingAndGlyphs">at time of Burr’s</text>
<text x="150.0" y="472.2" transform="rotate(0.03 150.0 472.2)" font-size="14.5" textLength="106.7" lengthAdjust="spacingAndGlyphs">disappearance</text>
<circle cx="136.8" cy="384.8" r="17" fill="#fff" stroke="#000" stroke-width="1.8"/><text x="136.8" y="391.1" transform="rotate(0.03 136.8 384.8)" font-size="19.6" text-anchor="middle" textLength="25" lengthAdjust="spacingAndGlyphs" style="stroke:#000;stroke-width:0.25">16</text>
<circle cx="341.5" cy="481.2" r="17.2" fill="#fff" stroke="#000" stroke-width="1.8"/><text x="341.5" y="487.5" transform="rotate(0.03 341.5 481.2)" font-size="19.6" text-anchor="middle" textLength="25" lengthAdjust="spacingAndGlyphs" style="stroke:#000;stroke-width:0.25">16</text>
</g>
<g id="scale">
<rect x="813.8" y="457.5" width="215" height="80" fill="#fff" stroke="#808080" stroke-width="0.9"/>
<rect x="832" y="487.7" width="174.1" height="9.9" rx="1.8" fill="#000"/>
<text x="827.2" y="483.9" transform="rotate(0.03 827.2 483.9)" font-size="20.4" textLength="13.0" lengthAdjust="spacingAndGlyphs">0</text>
<text x="981.6" y="483.9" transform="rotate(0.03 981.6 483.9)" font-size="20.4" textLength="35.0" lengthAdjust="spacingAndGlyphs">1/2</text>
<text x="898.4" y="519.9" transform="rotate(0.03 898.4 519.9)" font-size="19.6" textLength="50.2" lengthAdjust="spacingAndGlyphs">MILE</text>
</g>
<path d="M0.5,529 V0.5 H1023" fill="none" stroke="#000" stroke-opacity="0.3" stroke-width="1"/>
</svg>
</body>
</html>
